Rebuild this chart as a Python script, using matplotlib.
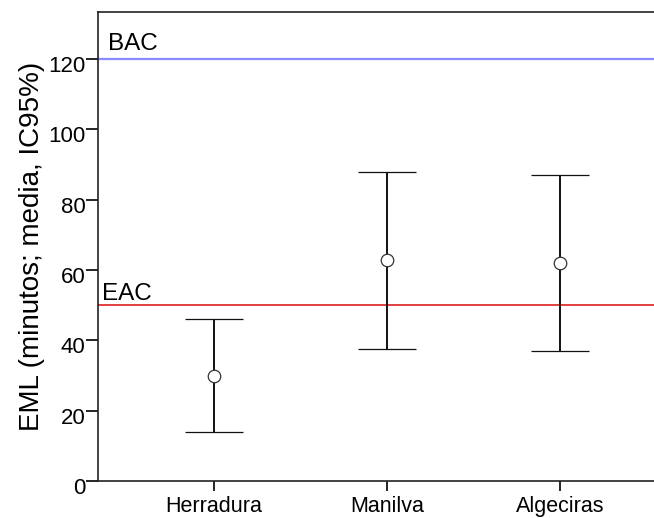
import matplotlib
matplotlib.use("Agg")
import matplotlib.pyplot as plt
from matplotlib.transforms import ScaledTranslation

categories = ["Herradura", "Manilva", "Algeciras"]
means = [30, 63, 62]
lower = [14, 37.5, 37]
upper = [46, 88, 87]
bac = 120
eac = 50
yticks = [0, 20, 40, 60, 80, 100, 120]

plt.rcParams['font.family'] = ['Liberation Sans', 'DejaVu Sans']

fig = plt.figure(figsize=(6.54, 5.18), dpi=100)
W, H = 654, 518
ax = fig.add_axes([98 / W, 1 - 481 / H, (676 - 98) / W, (481 - 12) / H])

x = list(range(1, len(categories) + 1))
yerr = [[m - l for m, l in zip(means, lower)], [u - m for m, u in zip(means, upper)]]
ax.errorbar(x, means, yerr=yerr, fmt='o', mfc='white', mec='#333333', ms=9, mew=0.9,
            ecolor='#111111', elinewidth=1.4, capsize=21, capthick=1.4, zorder=3)

ax.axhline(bac, color='#8a8aff', lw=1.6, zorder=2)
ax.axhline(eac, color='#e03030', lw=1.3, zorder=2)
ax.text(0.385, 122.6, "BAC", fontsize=17.5, va='baseline', ha='left')
ax.text(0.355, 51.5, "EAC", fontsize=17.5, va='baseline', ha='left')

ax.set_xlim(0.33, 3.67)
ax.set_ylim(0, 133.4)
ax.set_xticks(x)
ax.set_xticklabels(categories, fontsize=15.5)
ax.set_yticks(yticks)
ax.tick_params(axis='y', labelsize=16, length=9, width=1.2, direction='out', pad=0)
ax.tick_params(axis='x', length=7, width=1.2, direction='out', pad=4)
ax.set_ylabel("EML (minutos; media, IC95%)", fontsize=20, labelpad=2)
for s in ax.spines.values():
    s.set_linewidth(1.2)
    s.set_color('#222222')

offset = ScaledTranslation(0, -5 / 100, fig.dpi_scale_trans)
for lab in ax.get_yticklabels():
    lab.set_transform(lab.get_transform() + offset)

fig.savefig("out.png", dpi=100)
